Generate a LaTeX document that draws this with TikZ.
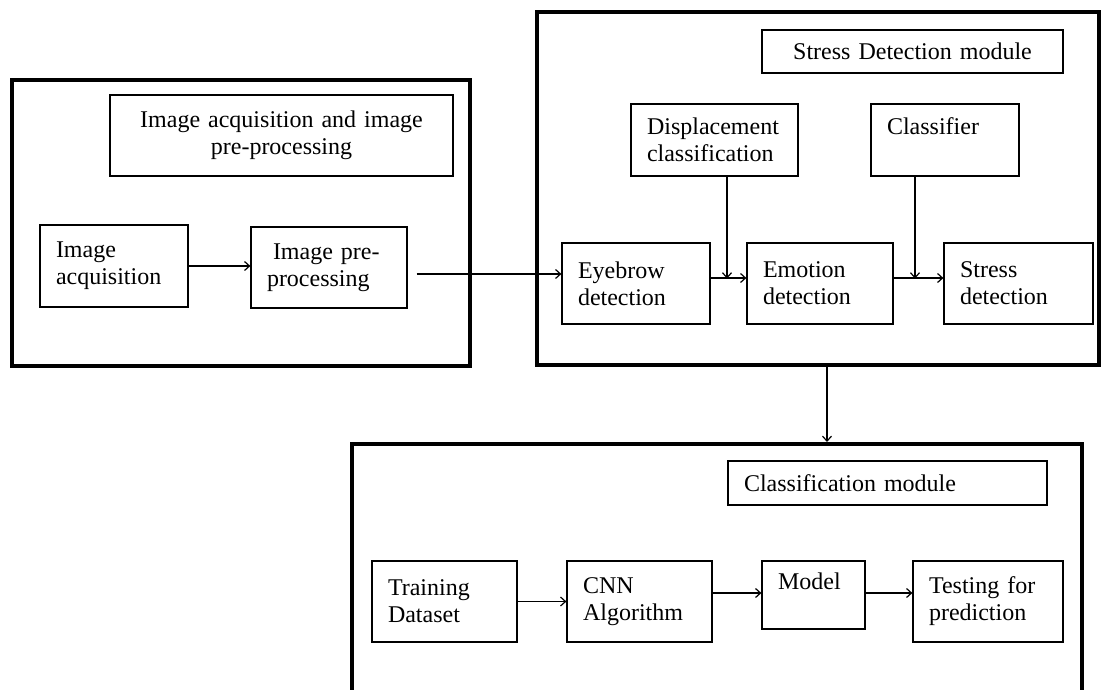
\documentclass[tikz,border=0pt]{standalone}
\usepackage{fontspec}
\setmainfont{Liberation Serif}
\usetikzlibrary{arrows.meta}

\begin{document}
\begin{tikzpicture}[x=1pt,y=-1pt,
		box/.style={draw, line width=.6pt, align=left, inner xsep=8pt, inner ysep=0pt, font=\fontsize{12}{13.5}\selectfont},
		module/.style={draw, line width=2pt, inner sep=0pt},
		arr/.style={-{Straight Barb[length=2.5pt,width=4.5pt]}, line width=.6pt}]
			\useasboundingbox (0,0) rectangle (551,345);
			\clip (0,0) rectangle (551,345);
			% the three modules
			\node[module, minimum width=229pt, minimum height=143pt] (imod) at (120.5,111.5) {};
			\node[module, minimum width=281pt, minimum height=176.25pt] (smod) at (409,94.375) {};
			\node[module, minimum width=365pt, minimum height=138pt] (cmod) at (358.5,291) {};
			% image acquisition
			\node[box, text width=155.5pt, align=center, minimum height=40.5pt] (ttl1) at (140.75,67.75) {Image acquisition and image\\pre-processing};
			\node[box, text width=58pt, minimum height=41pt] (acq) at (57,133) {Image\\acquisition};
			\node[box, text width=62pt, minimum height=40.5pt] (pre) at (164.5,133.75) {\hspace*{3pt}Image pre-\\processing};
			\draw[arr] (acq.east) -- (acq.east -| pre.west);
			% stress detection
			\node[box, text width=134.5pt, align=center, minimum height=21.5pt] (ttl2) at (456.25,25.75) {Stress Detection module};
			\node[box, text width=67.5pt, minimum height=36pt] (disp) at (357.25,70) {Displacement\\classification};
			\node[box, text width=58pt, minimum height=36pt] (cls) at (472.5,70) {Classifier\\\mbox{}};
			\node[box, text width=58pt, minimum height=40.5pt] (eye) at (318,141.75) {Eyebrow\\detection};
			\node[box, text width=57pt, minimum height=40.5pt] (emo) at (410,141.75) {Emotion\\detection};
			\node[box, text width=58.5pt, minimum height=40.5pt] (sdet) at (509.25,141.75) {Stress\\detection};
			\draw[arr] ([xshift=4.5pt,yshift=-3.25pt]pre.east) -- ([yshift=4.75pt]eye.west);
			\draw[arr] ([yshift=2.75pt]eye.east) -- ([yshift=2.75pt]emo.west);
			\draw[arr] ([yshift=2.75pt]emo.east) -- ([yshift=2.75pt]sdet.west);
			\draw[arr] ([xshift=6.25pt]disp.south) -- ++(0,51);
			\draw[arr] ([xshift=-15pt]cls.south) -- ++(0,51);
			\coordinate (drop) at (413.5,200);
			\draw[arr] (drop |- smod.south) -- (drop |- cmod.north);
			% classification
			\node[box, text width=143.5pt, minimum height=22pt] (ttl3) at (443.75,241.5) {Classification module};
			\node[box, text width=56.5pt, minimum height=40.5pt] (train) at (222.25,300.75) {Training\\Dataset};
			\node[box, text width=56.5pt, minimum height=40.5pt] (cnn) at (319.75,300.75) {CNN\\Algorithm};
			\node[box, text width=35.5pt, minimum height=34pt] (model) at (406.75,297.5) {Model\\\mbox{}};
			\node[box, text width=59pt, minimum height=40.5pt] (test) at (494,300.75) {Testing for\\prediction};
			\draw[arr] (train.east) -- (train.east -| cnn.west);
			\draw[arr] ([yshift=1pt]model.west -| cnn.east) -- ([yshift=1pt]model.west);
			\draw[arr] ([yshift=1pt]model.east) -- ([yshift=1pt]model.east -| test.west);
		\end{tikzpicture}
\end{document}
